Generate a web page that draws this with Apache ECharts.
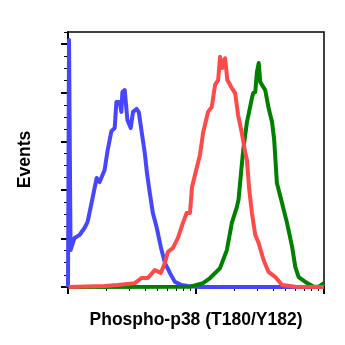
<!DOCTYPE html>
<html>
<head>
<meta charset="utf-8">
<script src="https://cdn.jsdelivr.net/npm/echarts@6/dist/echarts.min.js"></script>
<style>
  html, body { margin: 0; padding: 0; background: #fff; }
  #chart { width: 345px; height: 345px; }
</style>
</head>
<body>
<div id="chart"></div>
<script>
// Fluorescence intensity in log10 decades (x) and event counts per bin (y)
const blueX = [0.000, 0.008, 0.020, 0.051, 0.090, 0.129, 0.153, 0.184, 0.224, 0.247, 0.286, 0.310, 0.339, 0.365, 0.378, 0.404, 0.417, 0.425, 0.443, 0.464, 0.490, 0.508, 0.535, 0.553, 0.579, 0.600, 0.616, 0.639, 0.663, 0.692, 0.725, 0.757, 0.796, 0.835, 0.888, 0.937, 1.030, 2.000];
const blueY = [0, 101.7, 15.2, 20.2, 21.4, 24.3, 26.8, 34.6, 44.9, 43.2, 48.2, 56.4, 64.2, 65.5, 76.2, 76.2, 72.1, 80.3, 81.1, 68.8, 65.5, 72.1, 73.3, 72.1, 62.6, 55.2, 47.3, 38.7, 30.5, 24.7, 16.5, 9.9, 5.8, 2.1, 0.8, 0.4, 0, 0];

const redX = [0.004, 0.286, 0.388, 0.522, 0.574, 0.624, 0.678, 0.725, 0.757, 0.780, 0.820, 0.859, 0.898, 0.927, 0.953, 0.969, 0.992, 1.031, 1.055, 1.094, 1.123, 1.149, 1.173, 1.188, 1.206, 1.227, 1.245, 1.280, 1.306, 1.329, 1.358, 1.384, 1.398, 1.416, 1.437, 1.463, 1.489, 1.528, 1.567, 1.620, 1.672, 1.776, 1.996];
const redY = [0, 0.4, 0.8, 1.6, 3.7, 3.7, 7.0, 5.8, 9.9, 14.4, 16.1, 20.2, 26.4, 30.5, 30.5, 41.2, 46.1, 54.4, 63.4, 72.1, 74.1, 83.2, 85.2, 94.8, 90.2, 94.2, 85.2, 81.9, 79.8, 70.8, 63.4, 55.5, 52.3, 39.9, 30.5, 21.4, 18.1, 11.1, 6.2, 4.1, 0.8, 0.1, 0];

const greenX = [0.004, 0.953, 1.055, 1.110, 1.188, 1.241, 1.280, 1.319, 1.332, 1.358, 1.369, 1.398, 1.437, 1.447, 1.463, 1.476, 1.490, 1.502, 1.525, 1.541, 1.567, 1.594, 1.611, 1.632, 1.672, 1.711, 1.751, 1.776, 1.802, 1.868, 1.920, 1.959, 1.998];
const greenY = [0, 0.1, 1.6, 3.7, 7.8, 15.2, 26.4, 32.9, 35.8, 50.5, 56.4, 67.9, 77.8, 79.9, 80.3, 88.5, 92.2, 84.4, 82.4, 81.1, 73.7, 67.9, 60.5, 42.8, 34.6, 26.4, 16.5, 8.2, 4.1, 1.6, 0.1, 0.1, 1.6];

// Axis ranges and tick positions
const xRange = [0, 2];
const yRange = [0, 105];
const xMajorTicks = [0, 1, 2];
const xMinorTicks = [];
for (let dec = 0; dec < 2; dec++) {
  for (let m = 2; m <= 9; m++) xMinorTicks.push(dec + Math.log10(m));
}
const yMajorTicks = [0, 20, 40, 60, 80, 100];
const yMinorTicks = [];
for (let v = 5; v <= 105; v += 5) if (v % 20 !== 0) yMinorTicks.push(v);

const xTitle = 'Phospho-p38 (T180/Y182)';
const yTitle = 'Events';

function pairs(xs, ys) { return xs.map((x, i) => [x, ys[i]]); }

const gridBox = { left: 68, top: 32, width: 256, height: 255 };
const titleFont = { fontFamily: 'Liberation Sans, Arial, sans-serif', fontWeight: 'bold', fontSize: 17.5, color: '#000' };

// Grid 0 holds the curves and the minor ticks; grid 1 sits on top of it with the major ticks.
function xAxisFor(gridIndex, ticks, len, width, extra) {
  return Object.assign({
    gridIndex, type: 'value', min: xRange[0], max: xRange[1], position: 'bottom',
    axisLine: { show: true, lineStyle: { color: '#000', width: 1.5 } },
    axisTick: { show: true, customValues: ticks, length: len, lineStyle: { color: '#000', width } },
    axisLabel: { show: false, customValues: ticks },
    splitLine: { show: false }
  }, extra || {});
}
function yAxisFor(gridIndex, ticks, len, width, extra) {
  return Object.assign({
    gridIndex, type: 'value', min: yRange[0], max: yRange[1], position: 'left',
    axisLine: { show: true, lineStyle: { color: '#000', width: 1.5 } },
    axisTick: { show: true, customValues: ticks, length: len, lineStyle: { color: '#000', width } },
    axisLabel: { show: false, customValues: ticks },
    splitLine: { show: false }
  }, extra || {});
}

const chart = echarts.init(document.getElementById('chart'), null, { renderer: 'canvas' });
chart.setOption({
  animation: false,
  backgroundColor: '#fff',
  grid: [
    Object.assign({ show: true, borderColor: '#000', borderWidth: 1.5, backgroundColor: 'transparent' }, gridBox),
    Object.assign({ show: false }, gridBox)
  ],
  xAxis: [
    xAxisFor(0, xMinorTicks, 4, 1),
    xAxisFor(1, xMajorTicks, 7, 2, { name: xTitle, nameLocation: 'middle', nameGap: 24, nameTextStyle: titleFont })
  ],
  yAxis: [
    yAxisFor(0, yMinorTicks, 4, 1),
    yAxisFor(1, yMajorTicks, 7, 2, { name: yTitle, nameLocation: 'middle', nameGap: 34, nameRotate: 90, nameTextStyle: titleFont })
  ],
  series: [
    { type: 'line', data: pairs(blueX, blueY), showSymbol: false, symbol: 'none', lineStyle: { color: '#4646ff', width: 4, join: 'round' }, z: 3 },
    { type: 'line', data: pairs(greenX, greenY), showSymbol: false, symbol: 'none', lineStyle: { color: '#008000', width: 4, join: 'round' }, z: 4 },
    { type: 'line', data: pairs(redX, redY), showSymbol: false, symbol: 'none', lineStyle: { color: '#ff4a4a', width: 4, join: 'round' }, z: 5 }
  ]
});
</script>
</body>
</html>
